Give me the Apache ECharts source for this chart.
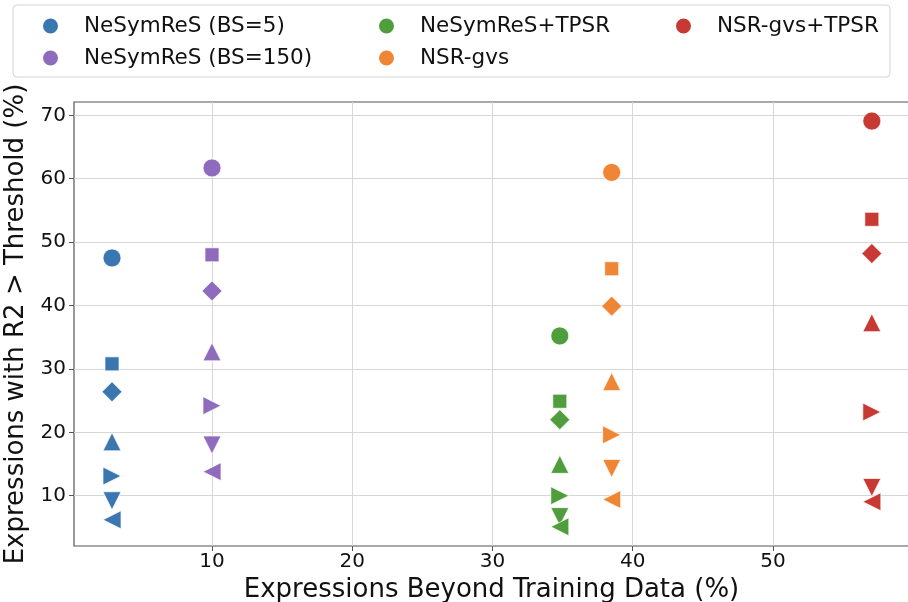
<!DOCTYPE html>
<html>
<head>
<meta charset="utf-8">
<title>Expressions beyond training data</title>
<script src="https://cdn.jsdelivr.net/npm/echarts@6/dist/echarts.min.js"></script>
<style>
  html, body { margin: 0; padding: 0; background: #fff; }
  #chart { width: 908px; height: 602px; }
</style>
</head>
<body>
<div id="chart"></div>
<script>
  // methods and their share of expressions beyond the training data (%)
  const methods = ['NeSymReS (BS=5)', 'NeSymReS (BS=150)', 'NeSymReS+TPSR', 'NSR-gvs', 'NSR-gvs+TPSR'];
  const beyondTraining = [2.87, 10.0, 34.8, 38.5, 57.05];

  // % expressions with R2 > threshold, one value per threshold (circle, square, diamond, up, right, down, left)
  const bs5Vals = [47.5, 30.8, 26.4, 18.5, 13.1, 9.2, 6.2];
  const bs150Vals = [61.7, 48.0, 42.3, 32.7, 24.2, 18.0, 13.8];
  const tpsrVals = [35.2, 24.9, 22.0, 14.95, 10.0, 6.7, 5.1];
  const gvsVals = [61.0, 45.8, 39.9, 28.0, 19.6, 14.3, 9.4];
  const gvsTpsrVals = [69.1, 53.6, 48.2, 37.3, 23.2, 11.3, 9.05];

  const xTicks = [10, 20, 30, 40, 50];
  const yTicks = [10, 20, 30, 40, 50, 60, 70];

  const allVals = [bs5Vals, bs150Vals, tpsrVals, gvsVals, gvsTpsrVals];
  const colors = ['#3a76af', '#8e6bbd', '#4f9d3c', '#ef8636', '#c63a33'];

  // marker look for each threshold
  const markers = [
    {symbol: 'circle', size: 18, rotate: 0},
    {symbol: 'rect', size: 14, rotate: 0},
    {symbol: 'diamond', size: 20, rotate: 0},
    {symbol: 'triangle', size: 18, rotate: 0},
    {symbol: 'triangle', size: 18, rotate: -90},
    {symbol: 'triangle', size: 18, rotate: 180},
    {symbol: 'triangle', size: 18, rotate: 90}
  ];

  const font = 'DejaVu Sans';
  const chart = echarts.init(document.getElementById('chart'));

  const series = methods.map(function (name, i) {
    return {
      name: name,
      type: 'scatter',
      symbol: 'circle',
      itemStyle: {color: colors[i], borderColor: '#fff', borderWidth: 0.7, opacity: 1},
      emphasis: {disabled: true},
      data: allVals[i].map(function (v, k) {
        return {
          value: [beyondTraining[i], v],
          symbol: markers[k].symbol,
          symbolSize: markers[k].size,
          symbolRotate: markers[k].rotate
        };
      })
    };
  });

  const legendBase = {
    orient: 'vertical',
    top: 10,
    itemWidth: 17,
    itemHeight: 17,
    itemGap: 10,
    icon: 'circle',
    selectedMode: false,
    textStyle: {fontFamily: font, fontSize: 21.5, color: '#111', lineHeight: 22, padding: [0, 0, 0, 20]}
  };

  chart.setOption({
    animation: false,
    backgroundColor: '#fff',
    textStyle: {fontFamily: font},
    graphic: [{
      type: 'rect',
      shape: {x: 13, y: 5, width: 877, height: 72, r: 4},
      style: {fill: '#fff', stroke: '#d4d4d4', lineWidth: 1},
      z: 0
    }],
    legend: [
      Object.assign({}, legendBase, {left: 36, data: [methods[0], methods[1]]}),
      Object.assign({}, legendBase, {left: 372, data: [methods[2], methods[3]]}),
      Object.assign({}, legendBase, {left: 669, data: [methods[4]]})
    ],
    grid: {
      left: 74, top: 102, right: -1, bottom: 56,
      outerBoundsMode: 'none',
      containLabel: false,
      show: true, borderColor: '#555', borderWidth: 1.2, backgroundColor: 'transparent'
    },
    xAxis: {
      type: 'value',
      min: 0.16,
      max: 59.7,
      splitNumber: 6,
      name: 'Expressions Beyond Training Data (%)',
      nameLocation: 'middle',
      nameGap: 26,
      nameTextStyle: {fontFamily: font, fontSize: 26, color: '#111'},
      axisLine: {show: false},
      axisTick: {show: true, length: 5, customValues: xTicks, lineStyle: {color: '#555'}},
      axisLabel: {margin: 6, fontFamily: font, fontSize: 20, color: '#111', customValues: xTicks},
      splitLine: {show: true, lineStyle: {color: '#d6d6d6', width: 1}}
    },
    yAxis: {
      type: 'value',
      min: 2.07,
      max: 72.1,
      splitNumber: 7,
      name: 'Expressions with R2 > Threshold (%)',
      nameLocation: 'middle',
      nameGap: 42,
      nameTextStyle: {fontFamily: font, fontSize: 26, color: '#111'},
      axisLine: {show: false},
      axisTick: {show: true, length: 5, customValues: yTicks, lineStyle: {color: '#555'}},
      axisLabel: {margin: 8, fontFamily: font, fontSize: 20, color: '#111', customValues: yTicks},
      splitLine: {show: true, lineStyle: {color: '#d6d6d6', width: 1}}
    },
    series: series
  });
</script>
</body>
</html>
